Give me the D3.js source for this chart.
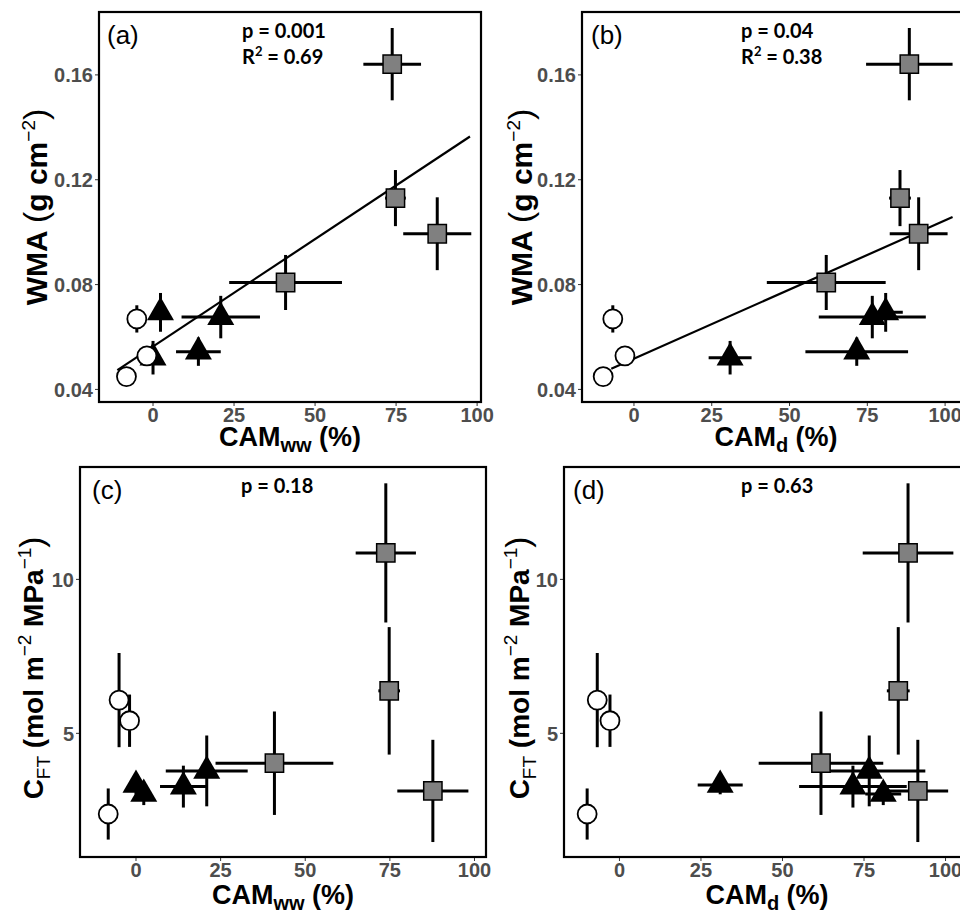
<!DOCTYPE html>
<html>
<head>
<meta charset="utf-8">
<script src="https://cdn.jsdelivr.net/npm/d3@7"></script>
<style>
body {margin:0; background:#fff;}
</style>
</head>
<body>
<svg id="chart" width="960" height="915"></svg>
<script>
// one entry per species: 3 circles, 4 triangles, 4 squares
var shapes = ['circle','circle','circle','triangle','triangle','triangle','triangle','square','square','square','square']
var camWW   = [-5.0, -1.9, -8.2, 2.3, 0.0, 14.0, 20.9, 73.8, 74.8, 87.7, 40.9]
var camWWse = [1.0, 0.8, 1.2, 1.2, 1.0, 6.9, 12.1, 8.9, 3.2, 10.5, 17.4]
var camD    = [-6.8, -2.9, -9.9, 80.9, 30.9, 71.6, 76.6, 88.5, 85.5, 91.5, 61.8]
var camDse  = [0.8, 0.8, 1.0, 5.5, 6.9, 16.5, 17.2, 13.9, 3.5, 9.3, 19.1]
var wma     = [0.0669, 0.0528, 0.0449, 0.0694, 0.0521, 0.0544, 0.0676, 0.1641, 0.1130, 0.0994, 0.0808]
var wmaSe   = [0.0052, 0.0020, 0.0010, 0.0074, 0.0064, 0.0054, 0.0081, 0.0138, 0.0107, 0.0139, 0.0105]
var cft     = [6.08, 5.41, 2.38, 3.03, 3.32, 3.27, 3.78, 10.86, 6.38, 3.13, 4.03]
var cftSe   = [1.53, 0.85, 0.83, 0.36, 0.30, 0.68, 1.15, 2.26, 2.07, 1.66, 1.68]

var xTicks = [0, 25, 50, 75, 100]
var wmaTicks = [0.04, 0.08, 0.12, 0.16]
var cftTicks = [5, 10]

// fitted lines: [slope, intercept, xFrom, xTo]
var fitA = [0.000819, 0.0564, -11.0, 97.8]
var fitB = [0.000528, 0.0517, -7.3, 102.4]

var svg = d3.select('#chart')
var sans = 'Liberation Sans, Arial, sans-serif'

var panels = [
  {key:'a', box:[99, 12, 481, 402], xd:[-16.67, 101.2], yd:[0.0352, 0.184], xs:camWW, xe:camWWse, ys:wma, ye:wmaSe,
   yt:wmaTicks, yf:d3.format('.2f'), fit:fitA, sub:'ww', ytitle:'wma', tOff:52, xOff:44, lx:8, stats:['p = 0.001','0.69'], sx:143},
  {key:'b', box:[582, 12, 970, 402], xd:[-16.7, 108.0], yd:[0.0352, 0.184], xs:camD, xe:camDse, ys:wma, ye:wmaSe,
   yt:wmaTicks, yf:d3.format('.2f'), fit:fitB, sub:'d', ytitle:'wma', tOff:50, xOff:44, lx:9, stats:['p = 0.04','0.38'], sx:159},
  {key:'c', box:[80, 467, 486, 857], xd:[-16.54, 103.4], yd:[0.984, 13.65], xs:camWW, xe:camWWse, ys:cft, ye:cftSe,
   yt:cftTicks, yf:d3.format('d'), fit:null, sub:'ww', ytitle:'cft', tOff:37, xOff:47, lx:12, stats:['p = 0.18'], sx:161},
  {key:'d', box:[564, 467, 970, 857], xd:[-17.0, 107.5], yd:[0.984, 13.65], xs:camD, xe:camDse, ys:cft, ye:cftSe,
   yt:cftTicks, yf:d3.format('d'), fit:null, sub:'d', ytitle:'cft', tOff:35, xOff:47, lx:9, stats:['p = 0.63'], sx:177}
]

var symArea = {circle:283, square:335, triangle:316}
var symType = {circle:d3.symbolCircle, square:d3.symbolSquare, triangle:d3.symbolTriangle}
var drawOrder = ['square','triangle','circle']

panels.forEach(function(p){
  var L = p.box[0], T = p.box[1], R = p.box[2], B = p.box[3]
  var x = d3.scaleLinear().domain(p.xd).range([L, R])
  var y = d3.scaleLinear().domain(p.yd).range([B, T])
  var g = svg.append('g')

  // ticks
  g.selectAll('.xt').data(xTicks).enter().append('line')
    .attr('x1', function(d){return x(d)}).attr('x2', function(d){return x(d)})
    .attr('y1', B).attr('y2', B + 4).attr('stroke', '#333').attr('stroke-width', 1)
  g.selectAll('.xl').data(xTicks).enter().append('text')
    .attr('x', function(d){return x(d)}).attr('y', B + 20)
    .attr('text-anchor', 'middle').attr('font-family', sans).attr('font-weight', 'bold')
    .attr('font-size', 20).attr('fill', '#4d4d4d').text(function(d){return d})
  g.selectAll('.yt').data(p.yt).enter().append('line')
    .attr('x1', L - 4).attr('x2', L)
    .attr('y1', function(d){return y(d)}).attr('y2', function(d){return y(d)})
    .attr('stroke', '#333').attr('stroke-width', 1)
  g.selectAll('.yl').data(p.yt).enter().append('text')
    .attr('x', L - 6).attr('y', function(d){return y(d)}).attr('dy', '0.36em')
    .attr('text-anchor', 'end').attr('font-family', sans).attr('font-weight', 'bold')
    .attr('font-size', 20).attr('fill', '#4d4d4d').text(function(d){return p.yf(d)})

  // fitted line
  if (p.fit) {
    var f = p.fit
    g.append('line')
      .attr('x1', x(f[2])).attr('y1', y(f[0] * f[2] + f[1]))
      .attr('x2', x(f[3])).attr('y2', y(f[0] * f[3] + f[1]))
      .attr('stroke', '#000').attr('stroke-width', 2.2)
  }

  var idx = d3.range(shapes.length)
  // error bars
  g.selectAll('.ev').data(idx).enter().append('line')
    .attr('x1', function(i){return x(p.xs[i])}).attr('x2', function(i){return x(p.xs[i])})
    .attr('y1', function(i){return y(p.ys[i] - p.ye[i])}).attr('y2', function(i){return y(p.ys[i] + p.ye[i])})
    .attr('stroke', '#000').attr('stroke-width', 3)
  g.selectAll('.eh').data(idx).enter().append('line')
    .attr('x1', function(i){return x(p.xs[i] - p.xe[i])}).attr('x2', function(i){return x(p.xs[i] + p.xe[i])})
    .attr('y1', function(i){return y(p.ys[i])}).attr('y2', function(i){return y(p.ys[i])})
    .attr('stroke', '#000').attr('stroke-width', 3)

  // points
  drawOrder.forEach(function(s){
    var ids = idx.filter(function(i){return shapes[i] == s})
    g.selectAll('.pt-' + s).data(ids).enter().append('path')
      .attr('d', d3.symbol().type(symType[s]).size(symArea[s]))
      .attr('transform', function(i){return 'translate(' + x(p.xs[i]) + ',' + y(p.ys[i]) + ')'})
      .attr('fill', s == 'circle' ? '#fff' : (s == 'square' ? '#808080' : '#000'))
      .attr('stroke', '#000')
      .attr('stroke-width', s == 'triangle' ? 0 : (s == 'circle' ? 1.8 : 1.5))
  })

  // frame
  g.append('rect').attr('x', L).attr('y', T).attr('width', R - L).attr('height', B - T)
    .attr('fill', 'none').attr('stroke', '#000').attr('stroke-width', 2.2)

  // panel letter and stats
  g.append('text').attr('x', L + p.lx).attr('y', T + 32)
    .attr('font-family', sans).attr('font-size', 26).attr('fill', '#000').text('(' + p.key + ')')
  g.append('text').attr('x', L + p.sx).attr('y', T + 26)
    .attr('font-family', 'Lato, sans-serif').attr('font-weight', 'bold').attr('font-size', 20)
    .text(p.stats[0])
  if (p.stats.length > 1) {
    var r2 = g.append('text').attr('x', L + p.sx).attr('y', T + 52)
      .attr('font-family', 'Lato, sans-serif').attr('font-weight', 'bold').attr('font-size', 20)
    r2.append('tspan').text('R')
    r2.append('tspan').attr('font-size', 13).attr('dy', -8).text('2')
    r2.append('tspan').attr('dy', 8).text(' = ' + p.stats[1])
  }

  // x title
  var xt = g.append('text').attr('x', (L + R) / 2).attr('y', B + p.xOff)
    .attr('text-anchor', 'middle').attr('font-family', sans).attr('font-weight', 'bold')
    .attr('font-size', 27).attr('fill', '#000')
  xt.append('tspan').text('CAM')
  xt.append('tspan').attr('font-size', 20).attr('dy', 6).text(p.sub)
  xt.append('tspan').attr('dy', -6).text(' (%)')

  // y title
  var isWma = p.ytitle == 'wma'
  var yt = g.append('text')
    .attr('transform', 'translate(' + (L - p.tOff) + ',' + ((T + B) / 2 + (isWma ? 0 : 6)) + ') rotate(-90)')
    .attr('text-anchor', 'middle').attr('font-family', sans).attr('font-weight', 'bold')
    .attr('font-size', isWma ? 30 : 28).attr('fill', '#000')
  if (isWma) {
    yt.append('tspan').text('WMA ')
    yt.append('tspan').attr('font-weight', 'normal').attr('font-size', 34).text('(')
    yt.append('tspan').text('g cm')
    yt.append('tspan').attr('font-weight', 'normal').attr('font-size', 19).attr('dy', -12).text('\u22122')
    yt.append('tspan').attr('font-weight', 'normal').attr('font-size', 34).attr('dy', 12).text(')')
  } else {
    yt.append('tspan').text('C')
    yt.append('tspan').attr('font-weight', 'normal').attr('font-size', 19).attr('dy', 7).text('FT')
    yt.append('tspan').attr('dy', -7).text(' (mol m')
    yt.append('tspan').attr('font-weight', 'normal').attr('font-size', 19).attr('dy', -12).text('\u22122')
    yt.append('tspan').attr('dy', 12).text(' MPa')
    yt.append('tspan').attr('font-weight', 'normal').attr('font-size', 19).attr('dy', -12).text('\u22121')
    yt.append('tspan').attr('font-weight', 'normal').attr('font-size', 33).attr('dy', 12).text(')')
  }
})
</script>
</body>
</html>
